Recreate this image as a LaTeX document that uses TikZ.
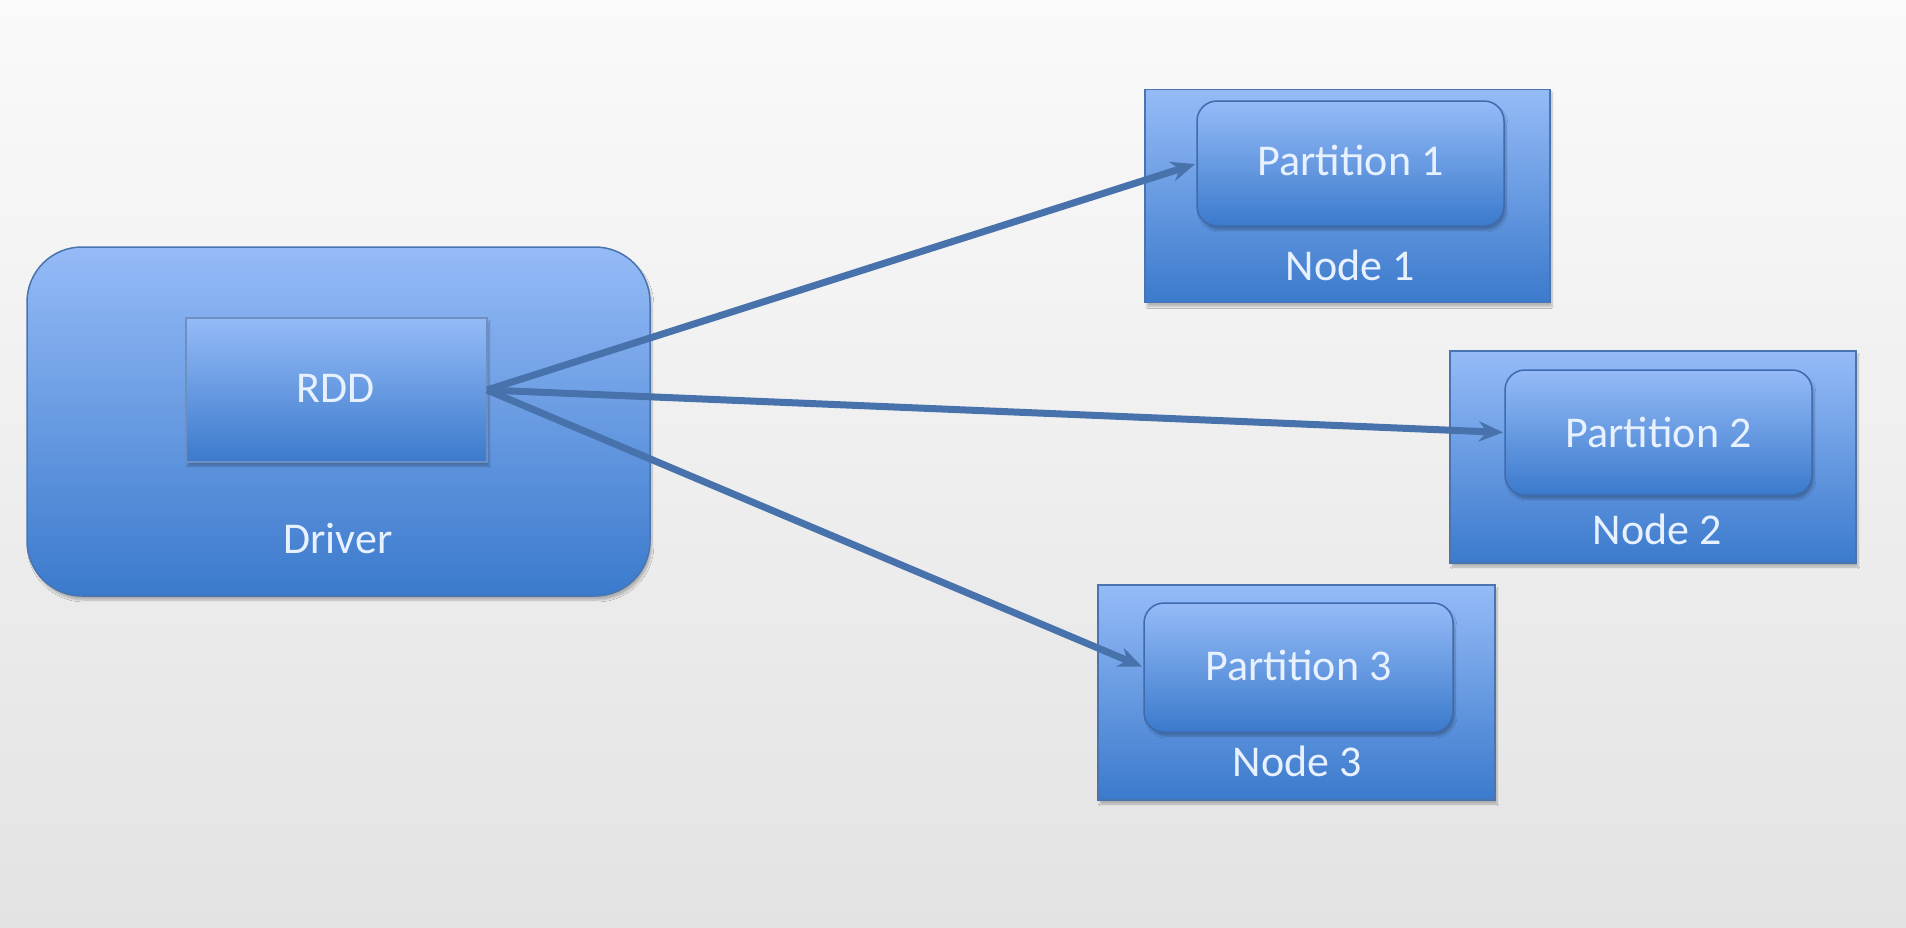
\documentclass[tikz,border=0pt]{standalone}
\usepackage{fontspec}
\setmainfont{Carlito}
\usetikzlibrary{arrows.meta,shadows.blur}

\definecolor{bgtop}{HTML}{FAFAFA}
\definecolor{bgbot}{HTML}{E3E3E3}
\definecolor{boxtop}{HTML}{95BBF7}
\definecolor{boxmid}{HTML}{6C9BE4}
\definecolor{boxbot}{HTML}{3B7ACC}
\definecolor{boxline}{HTML}{4A74B0}
\definecolor{innerline}{HTML}{3E6AAE}
\definecolor{arrowcol}{HTML}{4872AC}
\definecolor{labelcol}{HTML}{E8F1FF}

\tikzset{
  bluefill/.style={shading=axis, top color=boxtop, middle color=boxmid, bottom color=boxbot,
                   draw=boxline, line width=1.5pt, inner sep=0pt, outer sep=0pt,
                   blur shadow={shadow xshift=2pt, shadow yshift=-4pt, shadow blur steps=6, shadow opacity=25}},
  driverbox/.style={bluefill, rounded corners=55pt, minimum width=623pt, minimum height=349pt},
  rddbox/.style={bluefill, draw=boxline!80, minimum width=301pt, minimum height=144pt},
  hostbox/.style={bluefill, minimum width=405pt, minimum height=213pt},
  partbox/.style={bluefill, draw=innerline, rounded corners=20pt, minimum width=307pt, minimum height=125pt},
  boxlabel/.style={text=labelcol, font=\fontsize{44}{52}\selectfont, inner sep=0pt},
  sendarrow/.style={draw=arrowcol, line width=7pt, -{Stealth[length=24pt,width=20pt]}, shorten >=2pt}
}

\begin{document}
\begin{tikzpicture}[x=1pt,y=-1pt]
  % page background
  \shade[top color=bgtop, bottom color=bgbot] (0,0) rectangle (1906,927);
  \useasboundingbox (0,0) rectangle (1906,927);

  % driver with its RDD
  \node[driverbox] (driver) at (338.5,421.5) {};
  \node[rddbox] (rdd) at (336.5,390) {};
  \node[boxlabel] (rddlabel) at (336,388) {RDD};
  \node[boxlabel] (driverlabel) at (338,539) {Driver};

  % worker node 1
  \node[hostbox] (node1) at (1347.5,196) {};
  \node[partbox] (p1) at (1350.5,163.5) {};
  \node[boxlabel] (p1label) at (1350.5,160) {Partition 1};
  \node[boxlabel] (node1label) at (1350,265) {Node 1};

  % worker node 2
  \node[hostbox, minimum width=406pt, minimum height=212pt] (node2) at (1653,457) {};
  \node[partbox] (p2) at (1658.5,432.5) {};
  \node[boxlabel] (p2label) at (1658.5,432) {Partition 2};
  \node[boxlabel] (node2label) at (1657,529) {Node 2};

  % worker node 3
  \node[hostbox, minimum width=397pt, minimum height=215pt] (node3) at (1296.5,692.5) {};
  \node[partbox, minimum width=309pt, minimum height=129pt] (p3) at (1298.5,667.5) {};
  \node[boxlabel] (p3label) at (1298.5,665) {Partition 3};
  \node[boxlabel] (node3label) at (1297,761) {Node 3};

  % RDD partitions sent out to the nodes
  \draw[sendarrow] (rdd.east) -- (p1.west);
  \draw[sendarrow] (rdd.east) -- (p2.west);
  \draw[sendarrow] (rdd.east) -- (p3.west);
\end{tikzpicture}
\end{document}
